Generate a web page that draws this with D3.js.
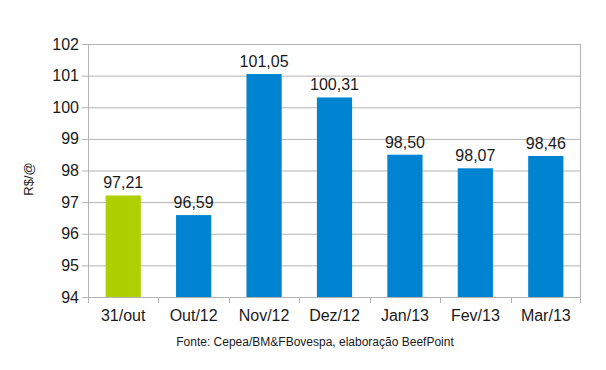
<!DOCTYPE html>
<html>
<head>
<meta charset="utf-8">
<script src="https://cdn.jsdelivr.net/npm/d3@7"></script>
<style>
	body { margin: 0; background: #fff; }
	text { font-family: "Liberation Sans", Arial, sans-serif; fill: #1a1a1a; }
</style>
</head>
<body>
<svg id="chart" width="606" height="370"></svg>
<script>
// data
var categories = ["31/out", "Out/12", "Nov/12", "Dez/12", "Jan/13", "Fev/13", "Mar/13"];
var values = [97.21, 96.59, 101.05, 100.31, 98.50, 98.07, 98.46];
var barColors = ["#aecf00", "#0084d1", "#0084d1", "#0084d1", "#0084d1", "#0084d1", "#0084d1"];
var yTicks = [94, 95, 96, 97, 98, 99, 100, 101, 102];

var svg = d3.select("#chart");
var margin = {top: 44, right: 25, bottom: 73, left: 88},
	width = 606 - margin.left - margin.right,
	height = 370 - margin.top - margin.bottom;

var g = svg.append("g").attr("transform", "translate(" + margin.left + "," + margin.top + ")");

var x = d3.scaleBand()
	.domain(categories)
	.range([0, width])
	.paddingInner(0.5)
	.paddingOuter(0.25);

var y = d3.scaleLinear()
	.domain([94, 102])
	.range([height, 0]);

var fmt = function (d) { return d.toFixed(2).replace(".", ","); };

// gridlines + left ticks
g.append("g")
	.selectAll("line")
	.data(yTicks).enter().append("line")
	.attr("x1", -6)
	.attr("x2", width)
	.attr("y1", function (d) { return y(d) + 0.5; })
	.attr("y2", function (d) { return y(d) + 0.5; })
	.attr("stroke", "#b3b3b3");

// y labels
g.append("g")
	.selectAll("text")
	.data(yTicks).enter().append("text")
	.attr("x", -9)
	.attr("y", function (d) { return y(d); })
	.attr("dy", "0.35em")
	.attr("text-anchor", "end")
	.style("font-size", "16px")
	.text(function (d) { return d; });

// frame sides
g.append("line").attr("x1", 0.5).attr("x2", 0.5).attr("y1", 0).attr("y2", height).attr("stroke", "#b3b3b3");
g.append("line").attr("x1", width - 0.5).attr("x2", width - 0.5).attr("y1", 0).attr("y2", height + 6).attr("stroke", "#b3b3b3");

// category boundary ticks
g.append("g")
	.selectAll("line")
	.data(d3.range(categories.length + 1)).enter().append("line")
	.attr("x1", function (i) { return Math.min(width - 0.5, Math.round(i * width / categories.length) + 0.5); })
	.attr("x2", function (i) { return Math.min(width - 0.5, Math.round(i * width / categories.length) + 0.5); })
	.attr("y1", height)
	.attr("y2", height + 6)
	.attr("stroke", "#b3b3b3");

// bars
g.selectAll(".bar")
	.data(values).enter().append("rect")
	.attr("class", "bar")
	.attr("x", function (d, i) { return x(categories[i]); })
	.attr("width", x.bandwidth())
	.attr("y", function (d) { return y(d); })
	.attr("height", function (d) { return height - y(d); })
	.attr("fill", function (d, i) { return barColors[i]; });

// value labels
g.selectAll(".val")
	.data(values).enter().append("text")
	.attr("class", "val")
	.attr("x", function (d, i) { return x(categories[i]) + x.bandwidth() / 2; })
	.attr("y", function (d) { return y(d) - 7; })
	.attr("text-anchor", "middle")
	.style("font-size", "16px")
	.text(fmt);

// category labels
g.selectAll(".cat")
	.data(categories).enter().append("text")
	.attr("class", "cat")
	.attr("x", function (d) { return x(d) + x.bandwidth() / 2; })
	.attr("y", height + 24)
	.attr("text-anchor", "middle")
	.style("font-size", "16px")
	.text(function (d) { return d; });

// y title
svg.append("text")
	.attr("transform", "translate(33,179) rotate(-90)")
	.attr("text-anchor", "middle")
	.style("font-size", "13px")
	.text("R$/@");

// source
svg.append("text")
	.attr("x", 315)
	.attr("y", 346)
	.attr("text-anchor", "middle")
	.style("font-size", "12px")
	.text("Fonte: Cepea/BM&FBovespa, elaboração BeefPoint");
</script>
</body>
</html>
